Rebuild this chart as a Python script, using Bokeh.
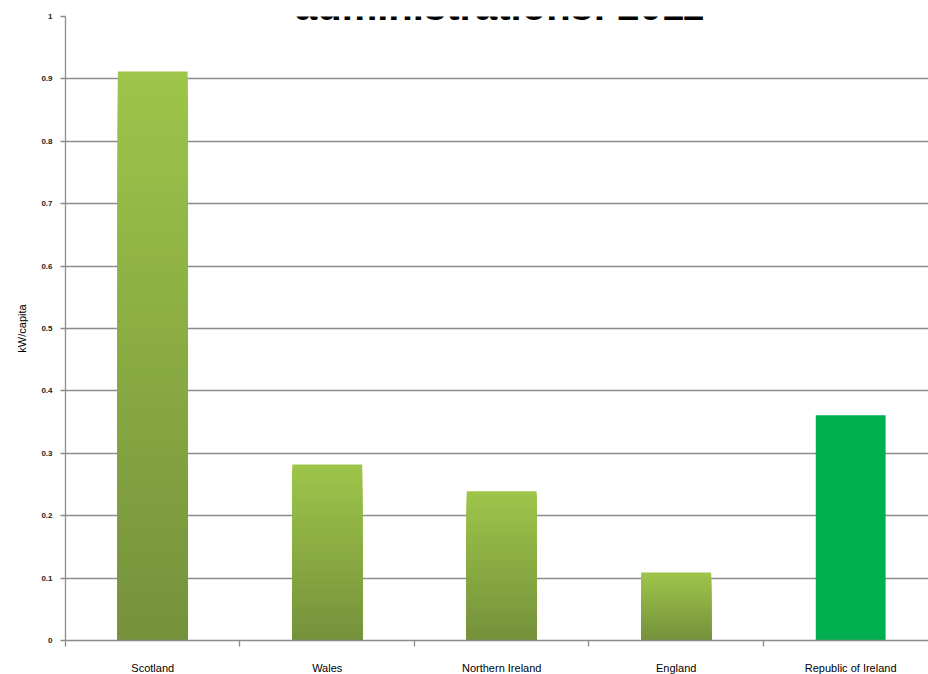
import numpy as np
from bokeh.plotting import figure
from bokeh.models import ColumnDataSource, FixedTicker, Label, Range1d
from bokeh.embed import file_html
from bokeh.resources import INLINE

# ---- data ----
categories = ["Scotland", "Wales", "Northern Ireland", "England", "Republic of Ireland"]
values = [0.912, 0.282, 0.239, 0.109, 0.361]
uk_region = [True, True, True, True, False]
y_ticks = [0, 0.1, 0.2, 0.3, 0.4, 0.5, 0.6, 0.7, 0.8, 0.9, 1]
y_tick_labels = ["0", "0.1", "0.2", "0.3", "0.4", "0.5", "0.6", "0.7", "0.8", "0.9", "1"]
y_label = "kW/capita"
title_text = "administrations: 2011"

# ---- styles ----
light = np.array([158, 197, 74])
dark = np.array([117, 145, 59])
solid = "#00B050"
grid_color = "#8C8C8C"
font = "Liberation Sans"
n_slices = 60
bar_width = 0.4

# gradient bars: overlapping rectangles from the base, tallest (lightest) drawn first
xs, tops, colors = [], [], []
for i, (cat, v, grad) in enumerate(zip(categories, values, uk_region)):
    xc = i + 0.5
    if grad:
        for k in range(n_slices):
            frac_top = (n_slices - k) / n_slices
            f = (n_slices - k - 0.5) / n_slices
            c = dark + (light - dark) * f
            xs.append(xc)
            tops.append(v * frac_top)
            colors.append("#%02x%02x%02x" % tuple(int(round(t)) for t in c))
    else:
        xs.append(xc)
        tops.append(v)
        colors.append(solid)

src = ColumnDataSource(dict(x=xs, top=tops, color=colors))

n = len(categories)
p = figure(
    frame_width=863, frame_height=624,
    min_border_left=65, min_border_top=16, min_border_right=0, min_border_bottom=34,
    x_range=Range1d(0, 4.946), y_range=Range1d(0, 1),
    output_backend="svg", toolbar_location=None,
)
p.outline_line_color = None
p.background_fill_color = "white"
p.border_fill_color = "white"

p.vbar(x="x", bottom=0, top="top", width=bar_width, source=src,
       fill_color="color", line_color=None)

# grid
p.xgrid.visible = False
p.ygrid.ticker = FixedTicker(ticks=y_ticks)
p.ygrid.grid_line_color = grid_color
p.ygrid.grid_line_width = 1.3
p.ygrid.level = "underlay"

# y axis
ya = p.yaxis[0]
ya.ticker = FixedTicker(ticks=y_ticks)
ya.major_label_overrides = {t: l for t, l in zip(y_ticks, y_tick_labels)}
ya.axis_label = y_label
ya.axis_label_text_font = font
ya.axis_label_text_font_size = "11px"
ya.axis_label_text_font_style = "normal"
ya.axis_label_text_color = "#000000"
ya.axis_label_standoff = 10
ya.major_label_text_font = font
ya.major_label_text_font_size = "8px"
ya.major_label_text_font_style = "bold"
ya.major_label_text_color = "#222222"
ya.major_label_standoff = 8
ya.major_tick_out = 5
ya.major_tick_in = 0
ya.minor_tick_line_color = None
ya.axis_line_color = grid_color
ya.axis_line_width = 1.3
ya.major_tick_line_color = grid_color
ya.major_tick_line_width = 1.3

# x axis: labels at category centres, ticks at category boundaries
xa = p.xaxis[0]
centres = [i + 0.5 for i in range(n)]
bounds = [float(i) for i in range(n + 1)]
xa.ticker = FixedTicker(ticks=centres, minor_ticks=bounds)
xa.major_label_overrides = {c: cat for c, cat in zip(centres, categories)}
xa.major_label_text_font = font
xa.major_label_text_font_size = "11px"
xa.major_label_text_color = "#000000"
xa.major_label_standoff = 15
xa.major_tick_line_color = None
xa.major_tick_out = 0
xa.major_tick_in = 0
xa.minor_tick_out = 6
xa.minor_tick_in = 0
xa.minor_tick_line_color = grid_color
xa.minor_tick_line_width = 1.3
xa.axis_line_color = grid_color
xa.axis_line_width = 1.3

# title, cut off at the top edge as in the reference
p.add_layout(Label(
    x=434, y=635, x_units="screen", y_units="screen",
    text=title_text, text_font=font, text_font_size="40px",
    text_font_style="bold", text_align="center", text_baseline="alphabetic",
    text_color="#000000",
))

open("out.html", "w").write(file_html(p, INLINE))
